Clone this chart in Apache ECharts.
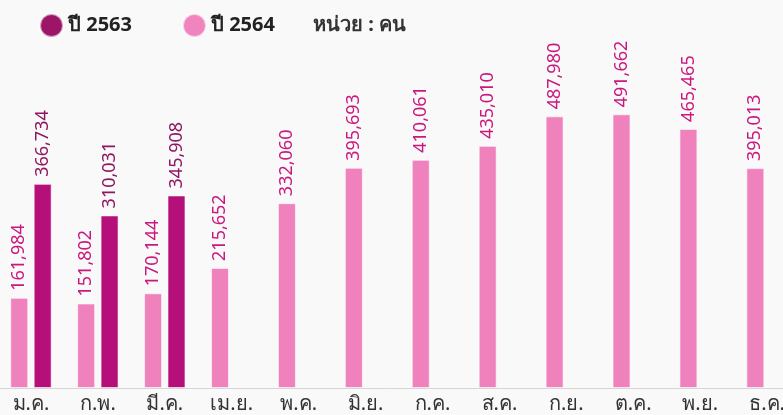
<!DOCTYPE html>
<html>
<head>
<meta charset="utf-8">
<script src="https://cdn.jsdelivr.net/npm/echarts@6/dist/echarts.min.js"></script>
<style>
  html, body { margin: 0; padding: 0; background: #f9f9f9; }
  #chart { width: 783px; height: 415px; }
</style>
</head>
<body>
<div id="chart"></div>
<script>
// ข้อมูลรายเดือน
var months = ['ม.ค.', 'ก.พ.', 'มี.ค.', 'เม.ย.', 'พ.ค.', 'มิ.ย.', 'ก.ค.', 'ส.ค.', 'ก.ย.', 'ต.ค.', 'พ.ย.', 'ธ.ค.'];
var year2564 = [161984, 151802, 170144, 215652, 332060, 395693, 410061, 435010, 487980, 491662, 465465, 395013];
var year2563 = [366734, 310031, 345908, null, null, null, null, null, null, null, null, null];

var fontFam = '"Noto Sans", "Open Sans", sans-serif';

function fmt (p) {
  return p.value == null ? '' : p.value.toLocaleString('en-US');
}

var chart = echarts.init(document.getElementById('chart'));
var option = {
  backgroundColor: '#f9f9f9',
  animation: false,
  title: {
    text: 'หน่วย : คน',
    left: 308,
    top: 10,
    textStyle: { fontSize: 20, fontWeight: 'bold', color: '#333', fontFamily: fontFam },
  },
  legend: {
    left: 34,
    top: 8,
    icon: 'circle',
    itemWidth: 23,
    itemHeight: 23,
    itemGap: 50,
    textStyle: { fontSize: 20, fontWeight: 'bold', color: '#222', fontFamily: fontFam },
    data: [
      { name: 'ปี 2563', itemStyle: { color: '#9c1566' } },
      { name: 'ปี 2564', itemStyle: { color: '#ef84be' } },
    ],
  },
  grid: {
    left: -2.5,
    width: 803,
    top: 54,
    bottom: 27,
    outerBoundsMode: 'none',
    containLabel: false,
  },
  xAxis: {
    type: 'category',
    data: months,
    axisTick: { show: false },
    axisLine: { lineStyle: { color: '#d6d6d6', width: 1 } },
    axisLabel: { fontSize: 20, color: '#333', margin: 6, fontFamily: fontFam, interval: 0 },
  },
  yAxis: {
    type: 'value',
    show: false,
    min: 0,
    max: 600000,
    splitLine: { show: false },
  },
  series: [
    {
      name: 'ปี 2564',
      type: 'bar',
      data: year2564,
      barWidth: 18,
      barGap: '30%',
      itemStyle: { color: '#ef82bd', borderColor: 'rgba(255,255,255,0.6)', borderWidth: 1 },
      label: {
        show: true,
        position: 'top',
        rotate: 90,
        align: 'left',
        verticalAlign: 'middle',
        distance: 7,
        fontSize: 18,
        color: '#c9197f',
        fontFamily: fontFam,
        formatter: fmt,
      },
    },
    {
      name: 'ปี 2563',
      type: 'bar',
      data: year2563,
      barWidth: 18,
      itemStyle: { color: '#b50f79', borderColor: 'rgba(255,255,255,0.6)', borderWidth: 1 },
      label: {
        show: true,
        position: 'top',
        rotate: 90,
        align: 'left',
        verticalAlign: 'middle',
        distance: 7,
        fontSize: 18,
        color: '#8e1761',
        fontFamily: fontFam,
        formatter: fmt,
      },
    },
  ],
};
chart.setOption(option);
</script>
</body>
</html>
